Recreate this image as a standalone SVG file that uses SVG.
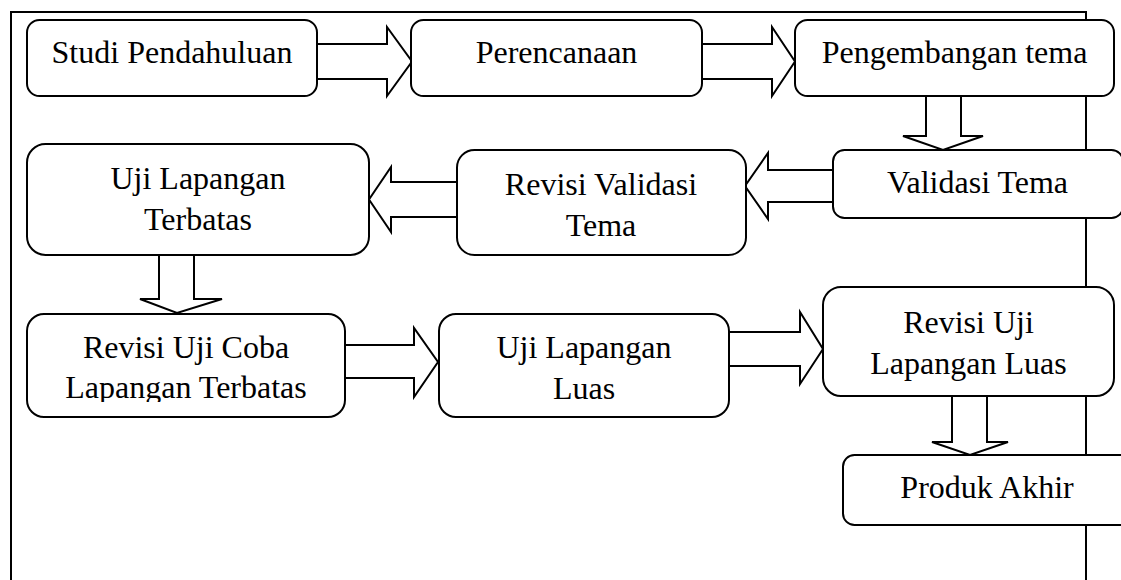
<svg xmlns="http://www.w3.org/2000/svg" width="1121" height="580" viewBox="0 0 1121 580">
<style>
.frame{fill:none;stroke:#000;stroke-width:2}
.box{fill:#fff;stroke:#000;stroke-width:2}
.arr{fill:#fff;stroke:#000;stroke-width:2;stroke-linejoin:miter}
.t{font-family:"Liberation Serif","Times New Roman",serif;font-size:32px;fill:#000;text-anchor:middle}
</style>
<defs>
<clipPath id="clipRUC"><rect x="27" y="314" width="318" height="88"/></clipPath>
</defs>
<rect width="1121" height="580" fill="#fff"/>
<path class="frame" d="M11,581 V12 H1086 V581"/>
<g id="connectors">
<polygon class="arr" points="317,44 387,44 387,27 412,61.5 387,96 387,79 317,79"/>
<polygon class="arr" points="702,44 772,44 772,27 795,61.5 772,96 772,79 702,79"/>
<polygon class="arr" points="926,96 926,136 903,136 943,150 983,136 961,136 961,96"/>
<polygon class="arr" points="833,170 768,170 768,153 745,186 768,219 768,202 833,202"/>
<polygon class="arr" points="457,182 391,182 391,167 369,199.5 391,232 391,217 457,217"/>
<polygon class="arr" points="159,255 159,299 140,299 177,313 222,299 194,299 194,255"/>
<polygon class="arr" points="345,345 414,345 414,328 438,362 414,397 414,378 345,378"/>
<polygon class="arr" points="729,332 800,332 800,312 823,349 800,384 800,366 729,366"/>
<polygon class="arr" points="952,396 952,442 932,442 970,455 1008,442 987,442 987,396"/>
</g>
<g id="studi-pendahuluan">
<rect class="box" x="27" y="20" width="290" height="76" rx="12.5"/>
<text class="t" x="172" y="63">Studi Pendahuluan</text>
</g>
<g id="perencanaan">
<rect class="box" x="411" y="20" width="291" height="76" rx="12.5"/>
<text class="t" x="556.5" y="63">Perencanaan</text>
</g>
<g id="pengembangan-tema">
<rect class="box" x="795" y="20" width="319" height="76" rx="12.5"/>
<text class="t" x="954.5" y="63">Pengembangan tema</text>
</g>
<g id="validasi-tema">
<rect class="box" x="833" y="150" width="290" height="68" rx="11.5"/>
<text class="t" x="977.5" y="193">Validasi Tema</text>
</g>
<g id="revisi-validasi-tema">
<rect class="box" x="457" y="150" width="289" height="105" rx="17.5"/>
<text class="t" x="601" y="195">Revisi Validasi</text>
<text class="t" x="601" y="236">Tema</text>
</g>
<g id="uji-lapangan-terbatas">
<rect class="box" x="27" y="144" width="342" height="111" rx="18.5"/>
<text class="t" x="198" y="189">Uji Lapangan</text>
<text class="t" x="198" y="230">Terbatas</text>
</g>
<g id="revisi-uji-coba">
<rect class="box" x="27" y="314" width="318" height="103" rx="17"/>
<g clip-path="url(#clipRUC)">
<text class="t" x="186" y="358">Revisi Uji Coba</text>
<text class="t" x="186" y="398">Lapangan Terbatas</text>
</g>
</g>
<g id="uji-lapangan-luas">
<rect class="box" x="439" y="314" width="290" height="103" rx="17"/>
<text class="t" x="584" y="358">Uji Lapangan</text>
<text class="t" x="584" y="399">Luas</text>
</g>
<g id="revisi-uji-lapangan-luas">
<rect class="box" x="823" y="287" width="291" height="109" rx="18"/>
<text class="t" x="968.5" y="333">Revisi Uji</text>
<text class="t" x="968.5" y="374">Lapangan Luas</text>
</g>
<g id="produk-akhir">
<rect class="box" x="843" y="455" width="288" height="70" rx="11.5"/>
<text class="t" x="987" y="498">Produk Akhir</text>
</g>
</svg>
